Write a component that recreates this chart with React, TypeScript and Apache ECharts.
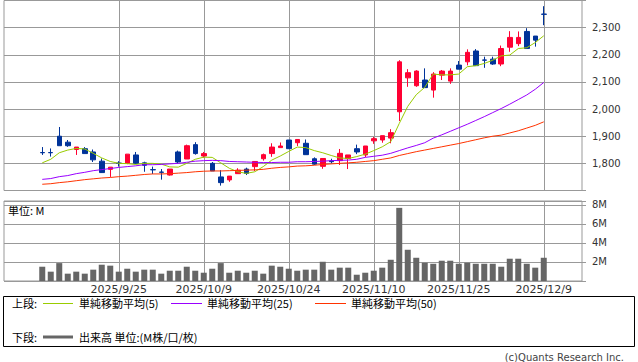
import React, { useEffect, useRef } from "react";
import * as echarts from "echarts";

const dates = [
  "2025/9/10", "2025/9/11", "2025/9/12", "2025/9/16", "2025/9/17", "2025/9/18", "2025/9/19", "2025/9/22", "2025/9/24", "2025/9/25",
  "2025/9/26", "2025/9/29", "2025/9/30", "2025/10/1", "2025/10/2", "2025/10/3", "2025/10/6", "2025/10/7", "2025/10/8", "2025/10/9",
  "2025/10/10", "2025/10/14", "2025/10/15", "2025/10/16", "2025/10/17", "2025/10/20", "2025/10/21", "2025/10/22", "2025/10/23", "2025/10/24",
  "2025/10/27", "2025/10/28", "2025/10/29", "2025/10/30", "2025/10/31", "2025/11/4", "2025/11/5", "2025/11/6", "2025/11/7", "2025/11/10",
  "2025/11/11", "2025/11/12", "2025/11/13", "2025/11/14", "2025/11/17", "2025/11/18", "2025/11/19", "2025/11/20", "2025/11/21", "2025/11/25",
  "2025/11/26", "2025/11/27", "2025/11/28", "2025/12/1", "2025/12/2", "2025/12/3", "2025/12/4", "2025/12/5", "2025/12/8", "2025/12/9",
];

const openP = [
  1840, 1840, 1900, 1878, 1851, 1854, 1842, 1808, 1778, 1801,
  1800, 1831, 1802, 1777, 1768, 1757, 1842, 1816, 1869, 1827,
  1800, 1750, 1739, 1762, 1779, 1788, 1817, 1836, 1858, 1886,
  1876, 1874, 1817, 1789, 1809, 1810, 1818, 1854, 1831, 1883,
  1886, 1893, 1990, 2115, 2086, 2107, 2070, 2125, 2103, 2162,
  2174, 2214, 2181, 2184, 2166, 2228, 2241, 2286, 2269, 2350,
];
const closeP = [
  1839, 1839, 1865, 1865, 1860, 1836, 1813, 1766, 1786, 1800,
  1834, 1800, 1793, 1776, 1767, 1779, 1805, 1865, 1836, 1836,
  1772, 1729, 1753, 1775, 1763, 1807, 1832, 1860, 1864, 1854,
  1888, 1832, 1797, 1818, 1806, 1837, 1831, 1842, 1864, 1891,
  1902, 1913, 2174, 2134, 2140, 2079, 2129, 2140, 2140, 2147,
  2209, 2160, 2180, 2166, 2223, 2264, 2264, 2223, 2254, 2349,
];
const lowP = [
  1831, 1825, 1865, 1861, 1831, 1836, 1805, 1765, 1750, 1788,
  1797, 1797, 1769, 1761, 1740, 1755, 1800, 1816, 1832, 1821,
  1772, 1718, 1732, 1762, 1757, 1772, 1810, 1824, 1858, 1854,
  1864, 1832, 1794, 1780, 1800, 1794, 1779, 1834, 1823, 1872,
  1876, 1874, 1956, 2082, 2082, 2078, 2042, 2107, 2093, 2147,
  2161, 2160, 2152, 2163, 2158, 2211, 2232, 2223, 2230, 2309,
];
const highP = [
  1860, 1855, 1934, 1886, 1860, 1860, 1851, 1818, 1786, 1808,
  1834, 1842, 1806, 1788, 1779, 1779, 1847, 1869, 1878, 1842,
  1805, 1775, 1753, 1782, 1784, 1807, 1836, 1874, 1877, 1886,
  1888, 1888, 1822, 1818, 1817, 1853, 1831, 1869, 1864, 1897,
  1902, 1926, 2180, 2147, 2143, 2150, 2136, 2144, 2150, 2177,
  2220, 2221, 2193, 2193, 2234, 2287, 2286, 2298, 2269, 2379,
];

// volume in millions
const volume = [
  1.5, 0.98, 1.88, 0.77, 0.98, 0.77, 1.19, 1.71, 1.61, 0.98,
  1.29, 0.98, 1.19, 1.19, 0.77, 1.08, 1.08, 1.5, 1.08, 0.87,
  1.29, 1.88, 0.87, 1.08, 0.87, 1.08, 0.77, 1.61, 1.5, 1.29,
  1.08, 1.19, 1.19, 2.02, 1.19, 1.4, 1.4, 0.66, 0.87, 1.08,
  1.4, 2.23, 7.68, 3.28, 2.44, 1.92, 1.81, 2.13, 2.13, 1.81,
  1.92, 1.81, 1.81, 1.81, 1.5, 2.34, 2.34, 1.81, 1.4, 2.44,
];

const ma5 = [
  1802, 1815, 1839, 1849, 1855, 1853, 1837, 1820, 1807, 1800,
  1799, 1796, 1800, 1800, 1797, 1787, 1786, 1800, 1815, 1823,
  1822, 1802, 1782, 1769, 1763, 1769, 1788, 1812, 1827, 1844,
  1860, 1858, 1847, 1839, 1829, 1820, 1818, 1825, 1834, 1847,
  1861, 1880, 1947, 2010, 2053, 2080, 2129, 2126, 2126, 2129,
  2156, 2160, 2168, 2180, 2196, 2199, 2223, 2226, 2245, 2270,
];
const ma25 = [
  1741, 1744, 1751, 1755, 1762, 1767, 1773, 1777, 1781, 1785,
  1788, 1791, 1795, 1795, 1796, 1798, 1800, 1804, 1808, 1810,
  1811, 1810, 1807, 1806, 1805, 1804, 1803, 1803, 1804, 1804,
  1806, 1806, 1807, 1808, 1810, 1811, 1812, 1815, 1822, 1826,
  1830, 1837, 1847, 1857, 1866, 1876, 1893, 1905, 1918, 1931,
  1944, 1958, 1972, 1987, 2002, 2018, 2035, 2052, 2073, 2098,
];
const ma50 = [
  1723, 1725, 1729, 1732, 1736, 1740, 1743, 1746, 1748, 1751,
  1753, 1756, 1759, 1761, 1761, 1762, 1764, 1766, 1769, 1771,
  1772, 1772, 1773, 1774, 1775, 1776, 1778, 1782, 1785, 1787,
  1790, 1791, 1793, 1796, 1798, 1800, 1802, 1804, 1807, 1810,
  1815, 1820, 1829, 1836, 1843, 1849, 1855, 1861, 1867, 1873,
  1880, 1887, 1894, 1900, 1904, 1912, 1920, 1930, 1940, 1953,
];

const labelDates = ["2025/9/25", "2025/10/9", "2025/10/24", "2025/11/10", "2025/11/25", "2025/12/9"];

const PAD_LEFT = 4;
const PAD_RIGHT = 4;

const C_UP = "#ff0033";
const C_DOWN = "#003399";
const C_MA5 = "#99cc00";
const C_MA25 = "#9900ff";
const C_MA50 = "#ff3300";
const C_VOL = "#666666";
const C_GRID = "#999999";

export default function App() {
  const ref = useRef<HTMLDivElement>(null);

  useEffect(() => {
    if (!ref.current) return;
    const chart = echarts.init(ref.current, null, { renderer: "svg" });

    const pre = Array.from({ length: PAD_LEFT }, (_, k) => `pre${k}`);
    const post = Array.from({ length: PAD_RIGHT }, (_, k) => `post${k}`);
    const cats = [...pre, ...dates, ...post];
    const pad = (arr: any[]) => [
      ...Array(PAD_LEFT).fill("-"),
      ...arr,
      ...Array(PAD_RIGHT).fill("-"),
    ];
    const candles = pad(dates.map((_, i) => [openP[i], closeP[i], lowP[i], highP[i]]));

    const vLines = {
      silent: true,
      symbol: ["none", "none"],
      z: 1,
      label: { show: false },
      lineStyle: { color: C_GRID, type: "solid", width: 1 },
      emphasis: { disabled: true },
      data: labelDates.map((d) => ({ xAxis: d })),
    };

    const axisFont = { fontFamily: "DejaVu Sans", color: "#333" };
    const cjk = "'Noto Sans CJK JP', sans-serif";
    const lf = `11px ${cjk}`;

    const option: any = {
      animation: false,
      backgroundColor: "#ffffff",
      grid: [
        { left: 4, width: 578, top: 0.5, height: 190, show: true, borderColor: C_GRID, borderWidth: 1 },
        { left: 4, width: 578, top: 201, height: 80, show: true, borderColor: C_GRID, borderWidth: 1 },
      ],
      xAxis: [
        {
          type: "category", gridIndex: 0, data: cats, boundaryGap: true,
          axisLine: { show: false }, axisTick: { show: false }, axisLabel: { show: false }, splitLine: { show: false },
        },
        {
          type: "category", gridIndex: 1, data: cats, boundaryGap: true,
          axisLine: { show: false }, axisTick: { show: false }, splitLine: { show: false },
          axisLabel: {
            show: true,
            interval: (_idx: number, value: string) => labelDates.includes(value),
            fontSize: 11, margin: 3, ...axisFont,
          },
        },
      ],
      yAxis: [
        {
          type: "value", gridIndex: 0, position: "right", min: 1700, max: 2400, interval: 100,
          axisLine: { show: false },
          axisTick: { show: true, length: 4, lineStyle: { color: C_GRID } },
          splitLine: { show: true, lineStyle: { color: C_GRID, width: 1 } },
          axisLabel: {
            fontSize: 10, margin: 10, ...axisFont,
            formatter: (v: number) => (v <= 1700 || v >= 2400 ? "" : v.toLocaleString("en-US")),
          },
        },
        {
          type: "value", gridIndex: 1, position: "right", min: 0, max: 8.4, interval: 2,
          axisLine: { show: false },
          axisTick: { show: true, length: 4, lineStyle: { color: C_GRID } },
          splitLine: { show: true, lineStyle: { color: C_GRID, width: 1 } },
          axisLabel: {
            fontSize: 10, margin: 10, ...axisFont,
            formatter: (v: number) => (v > 0 && v < 8.3 && v % 2 === 0 ? `${v}M` : ""),
          },
        },
      ],
      series: [
        {
          type: "candlestick", xAxisIndex: 0, yAxisIndex: 0, data: candles, barWidth: 5,
          itemStyle: { color: C_UP, color0: C_DOWN, borderColor: C_UP, borderColor0: C_DOWN, borderWidth: 1 },
          markLine: vLines,
          z: 3,
        },
        {
          type: "line", xAxisIndex: 0, yAxisIndex: 0, data: pad(ma5), showSymbol: false, symbol: "none",
          lineStyle: { color: C_MA5, width: 1 }, z: 4,
        },
        {
          type: "line", xAxisIndex: 0, yAxisIndex: 0, data: pad(ma25), showSymbol: false, symbol: "none",
          lineStyle: { color: C_MA25, width: 1 }, z: 4,
        },
        {
          type: "line", xAxisIndex: 0, yAxisIndex: 0, data: pad(ma50), showSymbol: false, symbol: "none",
          lineStyle: { color: C_MA50, width: 1 }, z: 4,
        },
        {
          type: "bar", xAxisIndex: 1, yAxisIndex: 1, data: pad(volume), barWidth: 6,
          itemStyle: { color: C_VOL }, markLine: vLines, z: 3,
        },
      ],
      graphic: [
        { type: "text", x: 8, y: 210, style: { text: "単位: M", font: lf, fill: "#000", verticalAlign: "middle" } },
        {
          type: "rect", shape: { x: 3.5, y: 296.5, width: 631, height: 50 },
          style: { fill: "none", stroke: "#000", lineWidth: 1 },
        },
        { type: "text", x: 12, y: 303, style: { text: "上段:", font: lf, fill: "#000", verticalAlign: "middle" } },
        { type: "line", shape: { x1: 43, y1: 303.5, x2: 73, y2: 303.5 }, style: { stroke: C_MA5, lineWidth: 1 } },
        { type: "text", x: 79, y: 303, style: { text: "単純移動平均(5)", font: lf, fill: "#000", verticalAlign: "middle" } },
        { type: "line", shape: { x1: 171, y1: 303.5, x2: 202, y2: 303.5 }, style: { stroke: C_MA25, lineWidth: 1 } },
        { type: "text", x: 207, y: 303, style: { text: "単純移動平均(25)", font: lf, fill: "#000", verticalAlign: "middle" } },
        { type: "line", shape: { x1: 315, y1: 303.5, x2: 346, y2: 303.5 }, style: { stroke: C_MA50, lineWidth: 1 } },
        { type: "text", x: 351, y: 303, style: { text: "単純移動平均(50)", font: lf, fill: "#000", verticalAlign: "middle" } },
        { type: "text", x: 12, y: 337, style: { text: "下段:", font: lf, fill: "#000", verticalAlign: "middle" } },
        { type: "line", shape: { x1: 43, y1: 337, x2: 73, y2: 337 }, style: { stroke: C_VOL, lineWidth: 3 } },
        { type: "text", x: 79, y: 337, style: { text: "出来高 単位:(M株/口/枚)", font: lf, fill: "#000", verticalAlign: "middle" } },
        {
          type: "text", x: 624, y: 357,
          style: { text: "(c)Quants Research Inc.", font: "10px 'DejaVu Sans'", fill: "#444", align: "right", verticalAlign: "middle" },
        },
      ],
    };

    chart.setOption(option);
    return () => chart.dispose();
  }, []);

  return (
    <div
      ref={ref}
      style={{ position: "fixed", left: 0, top: 0, width: 638, height: 362, background: "#fff" }}
    />
  );
}
